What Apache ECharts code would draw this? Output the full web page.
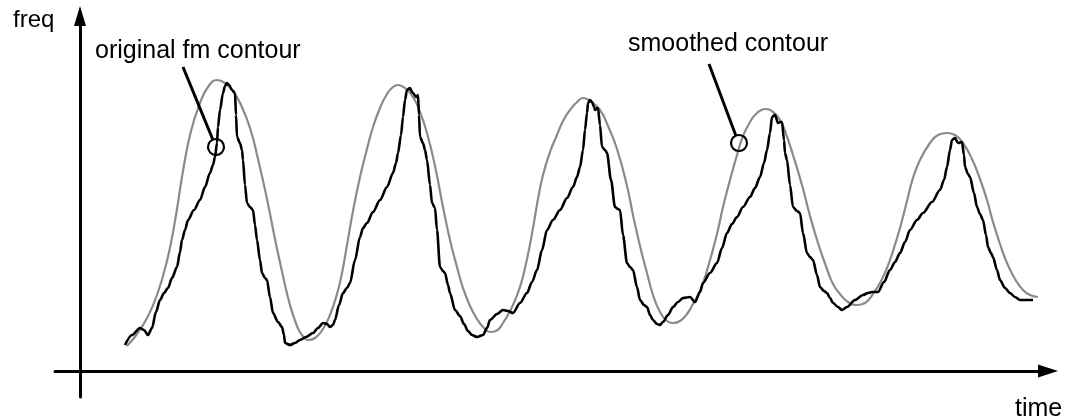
<!DOCTYPE html>
<html>
<head>
<meta charset="utf-8">
<title>fm contour vs smoothed contour</title>
<script src="https://cdn.jsdelivr.net/npm/echarts@6/dist/echarts.min.js"></script>
<style>
  html, body { margin: 0; padding: 0; background: #fff; }
  #chart { width: 1068px; height: 418px; }
</style>
</head>
<body>
<div id="chart"></div>
<script>
// Smoothed contour (grey): time and frequency samples
const smoothTime = [47,57,67,77,87,95,103,111,120,128,137,145,153,161,170,178,187,195,203,210,217,222,228,235,243,250,257,262,267,273,280,287,293,300,307,313,318,325,333,340,347,355,363,370,377,383,390,397,404,410,416,423,431,440,447,453,458,463,470,477,483,490,497,503,510,520,528,537,547,553,560,567,573,580,587,593,600,607,613,620,628,637,643,650,657,663,670,677,685,693,700,705,713,722,730,738,747,753,760,768,777,785,793,800,807,813,820,827,833,840,850,858,867,875,883,892,900,907,913,920,927,935,943,950,958];
const smoothFreq = [25,37,53,76,110,150,200,240,268,284,291,288,280,266,243,212,172,132,95,66,45,36,31,33,42,56,77,98,126,160,194,222,244,263,277,284,286,283,274,259,238,205,164,131,104,83,65,52,43,39,40,48,62,84,112,143,172,196,219,236,250,261,269,273,270,261,245,222,185,156,125,98,76,59,50,48,50,57,67,80,104,137,164,191,216,235,249,258,262,259,251,240,216,186,155,128,102,87,77,69,66,68,77,88,103,120,143,170,193,211,228,236,238,236,228,212,192,171,149,127,108,92,81,76,74];

// Original fm contour (black): time and frequency samples
const fmTime = [45,52,60,64,68,72,76,80,84,88,92,97,100,102,105,108,114,120,125,130,133,135,137,138,140,143,145,147,149,152,154,155,156,157,160,162,163,165,167,170,173,175,177,180,182,185,187,190,193,198,202,204,205,210,215,220,226,233,238,243,247,250,253,255,259,263,267,270,275,280,283,287,293,300,307,313,316,318,321,323,325,327,330,332,333,336,338,339,340,343,345,347,350,352,355,357,360,363,365,368,370,375,380,384,388,392,397,403,407,410,417,423,428,433,440,447,452,457,462,467,473,480,487,493,497,500,503,505,507,508,510,512,514,515,517,518,520,522,525,527,531,535,538,540,543,547,550,553,557,560,564,567,570,573,577,580,583,588,593,598,603,610,615,620,623,630,637,642,647,652,657,663,670,675,680,684,687,690,692,695,698,700,702,704,705,707,710,713,717,720,723,727,730,733,737,740,744,747,750,753,758,762,767,775,783,788,792,798,804,810,815,820,825,830,837,843,852,860,864,867,870,872,875,878,882,884,885,888,890,894,897,900,903,906,908,911,913,917,920,925,930,935,940,947,953];
const fmFreq = [26,36,43,41,36,43,59,71,78,83,93,104,119,131,141,151,161,171,184,198,206,214,228,244,261,278,285,288,286,281,279,278,256,234,228,221,211,186,168,164,161,146,131,111,98,93,91,74,58,49,44,36,28,26,28,31,34,38,43,48,47,44,46,51,66,78,83,88,111,134,143,148,159,171,184,198,208,218,236,254,271,281,283,279,278,274,276,256,234,228,221,211,186,168,163,141,104,100,98,86,78,61,55,47,40,36,34,36,43,51,57,61,60,58,68,78,89,101,121,141,151,161,173,184,194,204,221,241,258,268,271,269,264,261,263,263,246,224,221,218,191,164,162,161,136,108,104,101,84,71,66,64,56,51,47,46,49,56,64,69,73,74,69,79,88,98,108,123,138,147,154,164,174,183,194,208,221,238,254,256,248,249,249,231,218,211,186,164,160,158,138,118,114,111,96,84,80,78,73,68,64,61,64,71,76,78,79,79,89,101,109,118,129,141,151,158,169,181,191,204,221,231,233,228,229,216,204,197,194,178,164,157,151,136,124,118,114,101,91,83,78,74,71,71,71];

// Annotation anchors: leader line (label end, circle edge) and circle centre
const fmLeader = [[103, 304], [133, 231]];
const fmMarker = [136, 224];
const smoothLeader = [[629, 307], [656, 235]];
const smoothMarker = [659, 228];

// Axis and annotation texts
const yName = 'freq';
const xName = 'time';
const fmLabel = 'original fm contour';
const smoothLabel = 'smoothed contour';

const zip = (xs, ys) => xs.map((x, i) => [x, ys[i]]);

const FONT = '"Liberation Sans", Arial, Helvetica, sans-serif';

const circleStyle = {
  color: 'rgba(0,0,0,0)',
  borderColor: '#000',
  borderWidth: 2.2
};

const chart = echarts.init(document.getElementById('chart'), null, { renderer: 'canvas' });

chart.setOption({
  animation: false,
  backgroundColor: '#fff',
  grid: { left: 55, right: 20, top: 16, bottom: 21, containLabel: false },
  xAxis: {
    type: 'value',
    min: -25,
    max: 968,
    axisLine: {
      show: true,
      onZero: true,
      symbol: ['none', 'triangle'],
      symbolSize: [13, 20],
      lineStyle: { color: '#000', width: 3 }
    },
    axisTick: { show: false },
    axisLabel: { show: false },
    splitLine: { show: false }
  },
  yAxis: {
    type: 'value',
    min: -26,
    max: 355,
    axisLine: {
      show: true,
      onZero: true,
      symbol: ['none', 'triangle'],
      symbolSize: [12, 20],
      lineStyle: { color: '#000', width: 3 }
    },
    axisTick: { show: false },
    axisLabel: { show: false },
    splitLine: { show: false }
  },
  series: [
    {
      name: 'smoothed contour',
      type: 'line',
      data: zip(smoothTime, smoothFreq),
      showSymbol: false,
      smooth: 0.5,
      lineStyle: { color: '#8a8a8a', width: 2.2 },
      z: 2,
      markLine: {
        silent: true,
        symbol: ['none', 'none'],
        label: { show: false },
        lineStyle: { color: '#000', width: 3, type: 'solid' },
        data: [[{ coord: smoothLeader[0] }, { coord: smoothLeader[1] }]]
      },
      markPoint: {
        silent: true,
        symbol: 'circle',
        symbolSize: 16,
        label: { show: false },
        itemStyle: circleStyle,
        data: [{ coord: smoothMarker }]
      }
    },
    {
      name: 'original fm contour',
      type: 'line',
      data: zip(fmTime, fmFreq),
      showSymbol: false,
      smooth: 0.3,
      smoothMonotone: 'x',
      lineStyle: { color: '#000', width: 2.6 },
      z: 3,
      markLine: {
        silent: true,
        symbol: ['none', 'none'],
        label: { show: false },
        lineStyle: { color: '#000', width: 3, type: 'solid' },
        data: [[{ coord: fmLeader[0] }, { coord: fmLeader[1] }]]
      },
      markPoint: {
        silent: true,
        symbol: 'circle',
        symbolSize: 16,
        label: { show: false },
        itemStyle: circleStyle,
        data: [{ coord: fmMarker }]
      }
    }
  ],
  graphic: [
    { type: 'text', x: 13, y: 20, style: { text: yName, font: '24px ' + FONT, fill: '#000', textAlign: 'left', textVerticalAlign: 'middle' } },
    { type: 'text', x: 1015, y: 409, style: { text: xName, font: '25px ' + FONT, fill: '#000', textAlign: 'left', textVerticalAlign: 'middle' } },
    { type: 'text', x: 95, y: 51, style: { text: fmLabel, font: '25px ' + FONT, fill: '#000', textAlign: 'left', textVerticalAlign: 'middle' } },
    { type: 'text', x: 628, y: 44, style: { text: smoothLabel, font: '25px ' + FONT, fill: '#000', textAlign: 'left', textVerticalAlign: 'middle' } }
  ]
});
</script>
</body>
</html>
